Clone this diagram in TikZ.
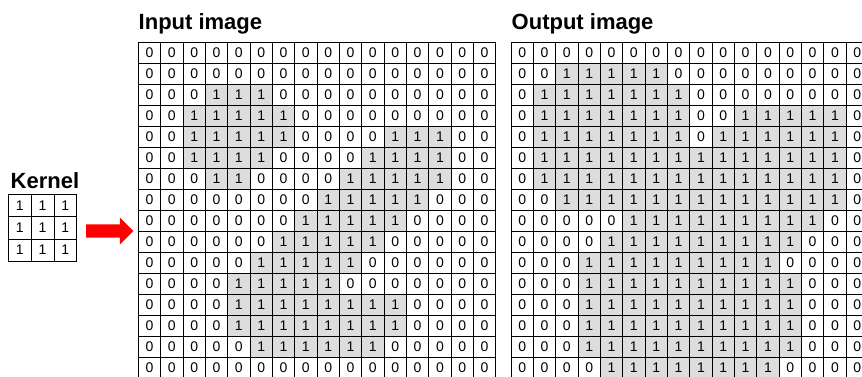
\documentclass[tikz,border=0pt]{standalone}
\usepackage{fontspec}
\setmainfont{Liberation Sans}
\usetikzlibrary{shapes.arrows}

\definecolor{c0}{RGB}{255,255,255}
\definecolor{c1}{RGB}{221,221,221}

\tikzset{
  cella/.style={minimum width=22.34pt, minimum height=21pt, inner sep=0pt, outer sep=0pt,
    anchor=north west, font=\fontsize{14}{14}\selectfont},
  bordo/.style={draw=black, line width=0.8pt},
  titolo/.style={anchor=base west, inner sep=0pt, font=\fontsize{22}{22}\selectfont\bfseries},
  freccia/.style={single arrow, fill=red, draw=none, minimum height=47.3pt,
    inner xsep=0pt, inner ysep=6.5pt, single arrow head extend=6.8pt,
    single arrow tip angle=90, outer sep=0pt}
}

% griglia 16x16: nome, x, y, righe
\newcommand{\griglia}[4]{%
  \foreach \riga [count=\r] in {#4}{
    \foreach \v [count=\c] in \riga
      \node[cella, fill=c\v] (#1-\r-\c) at ({#2+(\c-1)*22.34},{#3+(\r-1)*21}) {\v};
  }
  \foreach \c in {1,...,16}
    \draw[bordo] (#1-1-\c.north west) -- (#1-16-\c.south west);
  \draw[bordo] (#1-1-16.north east) -- (#1-16-16.south east);
  \foreach \r in {1,...,16}
    \draw[bordo] (#1-\r-1.north west) -- (#1-\r-16.north east);
  \draw[bordo] (#1-16-1.south west) -- (#1-16-16.south east);
}

\begin{document}
\begin{tikzpicture}[x=1pt, y=-1pt]

  \clip (0,0) rectangle (862,376);

  % Titoli
  \node[titolo] (tin) at (138.5,29.5) {Input image};
  \node[titolo] (tout) at (511.5,29.5) {Output image};
  \node[titolo] (tker) at (10.5,188) {Kernel};

  % Kernel
  \foreach \r in {1,2,3}
    \foreach \c in {1,2,3}
      \node[cella, bordo, minimum width=22.8pt, minimum height=22.3pt] (k-\r-\c)
        at ({8.3+(\c-1)*22.8},{194.3+(\r-1)*22.3}) {1};

  % Freccia
  \node[freccia] (freccia) at (106.4,231) {};

  % Immagine di ingresso
  \griglia{in}{138.3}{42.3}{
    {0,0,0,0,0,0,0,0,0,0,0,0,0,0,0,0},
    {0,0,0,0,0,0,0,0,0,0,0,0,0,0,0,0},
    {0,0,0,1,1,1,0,0,0,0,0,0,0,0,0,0},
    {0,0,1,1,1,1,1,0,0,0,0,0,0,0,0,0},
    {0,0,1,1,1,1,1,0,0,0,0,1,1,1,0,0},
    {0,0,1,1,1,1,0,0,0,0,1,1,1,1,0,0},
    {0,0,0,1,1,0,0,0,0,1,1,1,1,1,0,0},
    {0,0,0,0,0,0,0,0,1,1,1,1,1,0,0,0},
    {0,0,0,0,0,0,0,1,1,1,1,1,0,0,0,0},
    {0,0,0,0,0,0,1,1,1,1,1,0,0,0,0,0},
    {0,0,0,0,0,1,1,1,1,1,0,0,0,0,0,0},
    {0,0,0,0,1,1,1,1,1,0,0,0,0,0,0,0},
    {0,0,0,0,1,1,1,1,1,1,1,1,0,0,0,0},
    {0,0,0,0,1,1,1,1,1,1,1,1,0,0,0,0},
    {0,0,0,0,0,1,1,1,1,1,1,0,0,0,0,0},
    {0,0,0,0,0,0,0,0,0,0,0,0,0,0,0,0}}

  % Immagine di uscita
  \griglia{out}{511}{42.3}{
    {0,0,0,0,0,0,0,0,0,0,0,0,0,0,0,0},
    {0,0,1,1,1,1,1,0,0,0,0,0,0,0,0,0},
    {0,1,1,1,1,1,1,1,0,0,0,0,0,0,0,0},
    {0,1,1,1,1,1,1,1,0,0,1,1,1,1,1,0},
    {0,1,1,1,1,1,1,1,0,1,1,1,1,1,1,0},
    {0,1,1,1,1,1,1,1,1,1,1,1,1,1,1,0},
    {0,1,1,1,1,1,1,1,1,1,1,1,1,1,1,0},
    {0,0,1,1,1,1,1,1,1,1,1,1,1,1,1,0},
    {0,0,0,0,0,1,1,1,1,1,1,1,1,1,0,0},
    {0,0,0,0,1,1,1,1,1,1,1,1,1,0,0,0},
    {0,0,0,1,1,1,1,1,1,1,1,1,0,0,0,0},
    {0,0,0,1,1,1,1,1,1,1,1,1,1,0,0,0},
    {0,0,0,1,1,1,1,1,1,1,1,1,1,0,0,0},
    {0,0,0,1,1,1,1,1,1,1,1,1,1,0,0,0},
    {0,0,0,1,1,1,1,1,1,1,1,1,1,0,0,0},
    {0,0,0,0,1,1,1,1,1,1,1,1,0,0,0,0}}

\end{tikzpicture}
\end{document}
